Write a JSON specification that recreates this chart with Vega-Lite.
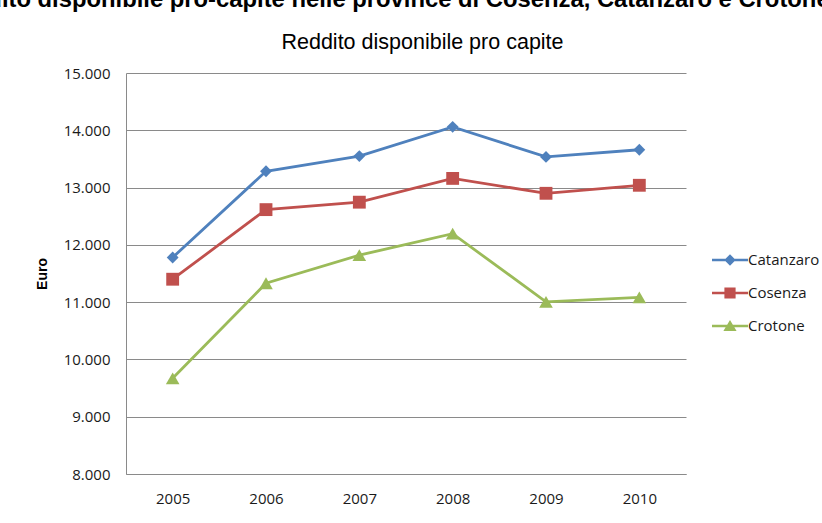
{
  "$schema": "https://vega.github.io/schema/vega-lite/v6.json",
  "autosize": {"type": "none"},
  "width": 560,
  "height": 401,
  "padding": {"left": 126, "top": 73, "right": 136, "bottom": 49},
  "background": "white",
  "title": {
    "text": "Reddito disponibile pro-capite nelle province di Cosenza, Catanzaro e Crotone",
    "font": "Liberation Sans",
    "fontSize": 23.8,
    "fontWeight": "bold",
    "color": "#000000",
    "anchor": "middle",
    "frame": "group",
    "baseline": "alphabetic",
    "offset": 0,
    "dx": -20
  },
  "data": {
    "values": [
      {"Anno": "2005", "Provincia": "Catanzaro", "Reddito": 11780},
      {"Anno": "2006", "Provincia": "Catanzaro", "Reddito": 13285},
      {"Anno": "2007", "Provincia": "Catanzaro", "Reddito": 13550},
      {"Anno": "2008", "Provincia": "Catanzaro", "Reddito": 14060},
      {"Anno": "2009", "Provincia": "Catanzaro", "Reddito": 13535},
      {"Anno": "2010", "Provincia": "Catanzaro", "Reddito": 13660},
      {"Anno": "2005", "Provincia": "Cosenza", "Reddito": 11400},
      {"Anno": "2006", "Provincia": "Cosenza", "Reddito": 12615},
      {"Anno": "2007", "Provincia": "Cosenza", "Reddito": 12745},
      {"Anno": "2008", "Provincia": "Cosenza", "Reddito": 13160},
      {"Anno": "2009", "Provincia": "Cosenza", "Reddito": 12900},
      {"Anno": "2010", "Provincia": "Cosenza", "Reddito": 13040},
      {"Anno": "2005", "Provincia": "Crotone", "Reddito": 9670},
      {"Anno": "2006", "Provincia": "Crotone", "Reddito": 11330},
      {"Anno": "2007", "Provincia": "Crotone", "Reddito": 11820},
      {"Anno": "2008", "Provincia": "Crotone", "Reddito": 12195},
      {"Anno": "2009", "Provincia": "Crotone", "Reddito": 11005},
      {"Anno": "2010", "Provincia": "Crotone", "Reddito": 11085}
    ]
  },
  "resolve": {"axis": {"x": "independent"}},
  "layer": [
    {
      "mark": {"type": "line", "strokeWidth": 2.8},
      "encoding": {
        "x": {
          "field": "Anno", "type": "ordinal",
          "axis": {
            "orient": "bottom", "title": null, "labelAngle": 0,
            "ticks": false, "tickSize": 0, "domain": true, "domainColor": "#8a8a8a", "domainWidth": 1,
            "grid": false, "labelFont": "Open Sans", "labelFontSize": 15, "labelColor": "#1a1a1a",
            "labelPadding": 17
          }
        },
        "y": {
          "field": "Reddito", "type": "quantitative",
          "scale": {"domain": [8000, 15000], "nice": false, "zero": false},
          "axis": {
            "title": "Euro", "titleFont": "Liberation Sans", "titleFontSize": 14, "titleFontWeight": "bold",
            "titleColor": "#000000", "titlePadding": 14,
            "values": [8000, 9000, 10000, 11000, 12000, 13000, 14000, 15000],
            "labelExpr": "replace(format(datum.value, ','), ',', '.')",
            "ticks": false, "tickSize": 0, "domain": true, "domainColor": "#8a8a8a",
            "grid": true, "gridColor": "#8a8a8a", "gridWidth": 1,
            "labelFont": "Open Sans", "labelFontSize": 15, "labelColor": "#1a1a1a", "labelPadding": 16
          }
        },
        "color": {
          "field": "Provincia", "type": "nominal",
          "scale": {"domain": ["Catanzaro", "Cosenza", "Crotone"], "range": ["#4F81BD", "#C0504D", "#9BBB59"]},
          "legend": {
            "title": null, "orient": "none", "legendX": 594, "legendY": 177,
            "padding": 0, "symbolSize": 400, "labelOffset": 8,
            "labelFont": "Open Sans", "labelFontSize": 15, "labelColor": "#1a1a1a",
            "rowPadding": 15,
            "encode": {
              "symbols": {
                "update": {
                  "shape": {"signal": "datum.value === 'Catanzaro' ? 'M-1.8,-0.13H1.8V0.13H-1.8Z M0,-0.57L0.57,0L0,0.57L-0.57,0Z' : datum.value === 'Cosenza' ? 'M-1.8,-0.13H1.8V0.13H-1.8Z M-0.56,-0.56H0.56V0.56H-0.56Z' : 'M-1.8,-0.13H1.8V0.13H-1.8Z M0,-0.6L0.66,0.5H-0.66Z'"},
                  "size": {"value": 400},
                  "fill": {"scale": "color", "field": "value"},
                  "strokeWidth": {"value": 0},
                  "opacity": {"value": 1}
                }
              }
            }
          }
        }
      }
    },
    {
      "transform": [{"filter": {"field": "Provincia", "equal": "Catanzaro"}}],
      "mark": {"type": "point", "filled": true, "opacity": 1, "size": 140, "shape": "diamond"},
      "encoding": {
        "x": {
          "field": "Anno", "type": "ordinal",
          "axis": {
            "orient": "top", "labels": false, "ticks": false, "domain": false, "grid": false,
            "title": "Reddito disponibile pro capite",
            "titleFont": "Liberation Sans", "titleFontSize": 21.5, "titleFontWeight": "normal",
            "titleColor": "#000000", "titleX": 296, "titleY": -25, "titleAlign": "center",
            "titleBaseline": "alphabetic"
          }
        },
        "y": {"field": "Reddito", "type": "quantitative"},
        "color": {"field": "Provincia", "type": "nominal"}
      }
    },
    {
      "transform": [{"filter": {"field": "Provincia", "equal": "Cosenza"}}],
      "mark": {"type": "point", "filled": true, "opacity": 1, "size": 165, "shape": "square"},
      "encoding": {
        "x": {"field": "Anno", "type": "ordinal", "axis": null},
        "y": {"field": "Reddito", "type": "quantitative"},
        "color": {"field": "Provincia", "type": "nominal"}
      }
    },
    {
      "transform": [{"filter": {"field": "Provincia", "equal": "Crotone"}}],
      "mark": {"type": "point", "filled": true, "opacity": 1, "size": 185, "shape": "triangle-up"},
      "encoding": {
        "x": {"field": "Anno", "type": "ordinal", "axis": null},
        "y": {"field": "Reddito", "type": "quantitative"},
        "color": {"field": "Provincia", "type": "nominal"}
      }
    }
  ],
  "config": {
    "view": {"stroke": null},
    "font": "Open Sans"
  }
}
